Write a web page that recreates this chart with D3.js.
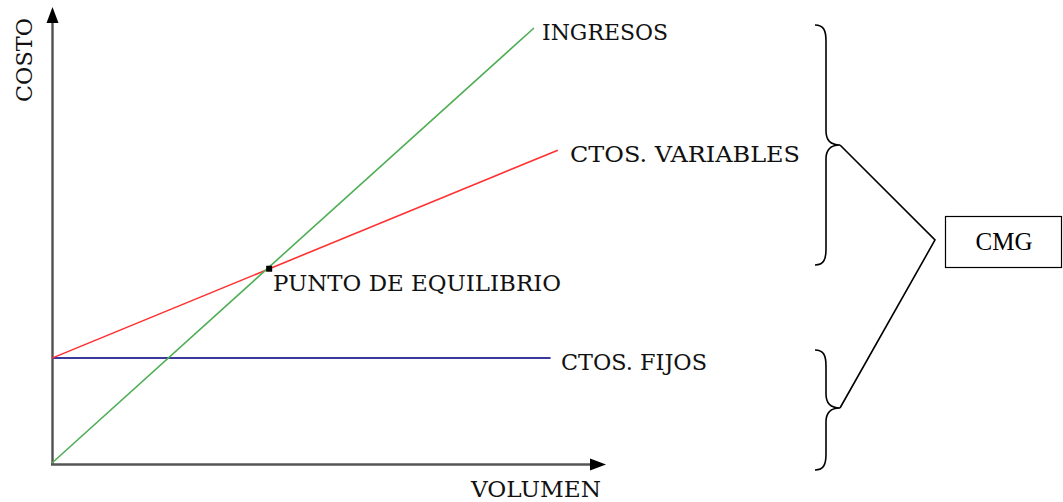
<!DOCTYPE html>
<html><head><meta charset="utf-8">
<script src="https://cdn.jsdelivr.net/npm/d3@7"></script>
<style>html,body{margin:0;padding:0;background:#fff;}svg{display:block;}</style>
</head><body>
<svg id="c" width="1063" height="502"></svg>
<script>
// ---- data ----
const axisDomainX = [0, 100];          // volumen
const axisDomainY = [0, 100];          // costo
const ingresos = [[0, 0], [87, 95.4]];
const ctosVariables = [[0, 23], [91.3, 68.6]];
const ctosFijos = [[0, 23], [90, 23]];
const puntoEquilibrio = [39.2, 42.6];
const seriesNames = ["INGRESOS", "CTOS. VARIABLES", "CTOS. FIJOS"];
const axisTitles = {x: "VOLUMEN", y: "COSTO"};
const pointLabel = "PUNTO DE EQUILIBRIO";
const boxLabel = "CMG";

// ---- drawing ----
const svg = d3.select("#c");
const x = d3.scaleLinear().domain(axisDomainX).range([52, 606]);
const y = d3.scaleLinear().domain(axisDomainY).range([463, 7]);
const line = d3.line().x(d => x(d[0])).y(d => y(d[1]));
const serif = "'DejaVu Serif', serif";

// axes
svg.append("line").attr("x1", x(0) + 0.5).attr("y1", y(0) + 2).attr("x2", x(0) + 0.5).attr("y2", y(100) + 14)
  .attr("stroke", "#505050").attr("stroke-width", 2.4);
svg.append("line").attr("x1", x(0) - 1).attr("y1", y(0) + 1.5).attr("x2", x(100) - 14).attr("y2", y(0) + 1.5)
  .attr("stroke", "#555").attr("stroke-width", 2.6);
svg.append("path").attr("d", `M${x(0) + 0.5},${y(100)} L${x(0) - 5.5},${y(100) + 16} L${x(0) + 6.5},${y(100) + 16} Z`).attr("fill", "#000");
svg.append("path").attr("d", `M${x(100)},${y(0) + 1.5} L${x(100) - 16},${y(0) - 4.5} L${x(100) - 16},${y(0) + 7.5} Z`).attr("fill", "#000");

// series lines
svg.append("path").attr("d", line(ctosFijos)).attr("fill", "none").attr("stroke", "#3a3a9c").attr("stroke-width", 2);
svg.append("path").attr("d", line(ctosVariables)).attr("fill", "none").attr("stroke", "#ff3030").attr("stroke-width", 1.6);
svg.append("path").attr("d", line(ingresos)).attr("fill", "none").attr("stroke", "#4fae55").attr("stroke-width", 1.6);

// break-even marker
svg.append("rect").attr("x", x(puntoEquilibrio[0]) - 3).attr("y", y(puntoEquilibrio[1]) - 3)
  .attr("width", 6).attr("height", 6).attr("fill", "#000");

function label(txt, px, py, len) {
  svg.append("text").attr("x", px).attr("y", py).attr("font-family", serif).attr("font-size", 23)
    .attr("fill", "#111").attr("textLength", len).attr("lengthAdjust", "spacingAndGlyphs").text(txt);
}
label(seriesNames[0], 542, 40, 126);
label(seriesNames[1], 570, 162, 230);
label(seriesNames[2], 561, 370, 146);
label(pointLabel, 273, 291, 288);
label(axisTitles.x, 471, 497, 130);
svg.append("text").attr("transform", "translate(32,102) rotate(-90)")
  .attr("font-family", serif).attr("font-size", 23).attr("fill", "#111")
  .attr("textLength", 84).attr("lengthAdjust", "spacingAndGlyphs").text(axisTitles.y);

// braces
function brace(top, tip, bottom) {
  const xe = 815, xv = 826, xt = 840;
  return `M${xe},${top} C${xv - 2},${top} ${xv},${top + 6} ${xv},${top + 16}
    L${xv},${tip - 14} C${xv},${tip - 4} ${xv + 6},${tip} ${xt},${tip}
    C${xv + 6},${tip} ${xv},${tip + 4} ${xv},${tip + 14}
    L${xv},${bottom - 16} C${xv},${bottom - 6} ${xv - 2},${bottom} ${xe},${bottom}`;
}
svg.append("path").attr("d", brace(25, 145, 265)).attr("fill", "none").attr("stroke", "#000").attr("stroke-width", 1.6);
svg.append("path").attr("d", brace(350, 408, 470)).attr("fill", "none").attr("stroke", "#000").attr("stroke-width", 1.6);
svg.append("path").attr("d", "M840,145 L935,240 L840,408").attr("fill", "none").attr("stroke", "#000").attr("stroke-width", 1.6);

// CMG box
svg.append("rect").attr("x", 945.5).attr("y", 216.5).attr("width", 116).attr("height", 51)
  .attr("fill", "#fff").attr("stroke", "#000").attr("stroke-width", 1.2);
svg.append("text").attr("x", 1004).attr("y", 250).attr("text-anchor", "middle")
  .attr("font-family", "'Liberation Serif', serif").attr("font-size", 25).attr("fill", "#000").text(boxLabel);
</script>
</body></html>
